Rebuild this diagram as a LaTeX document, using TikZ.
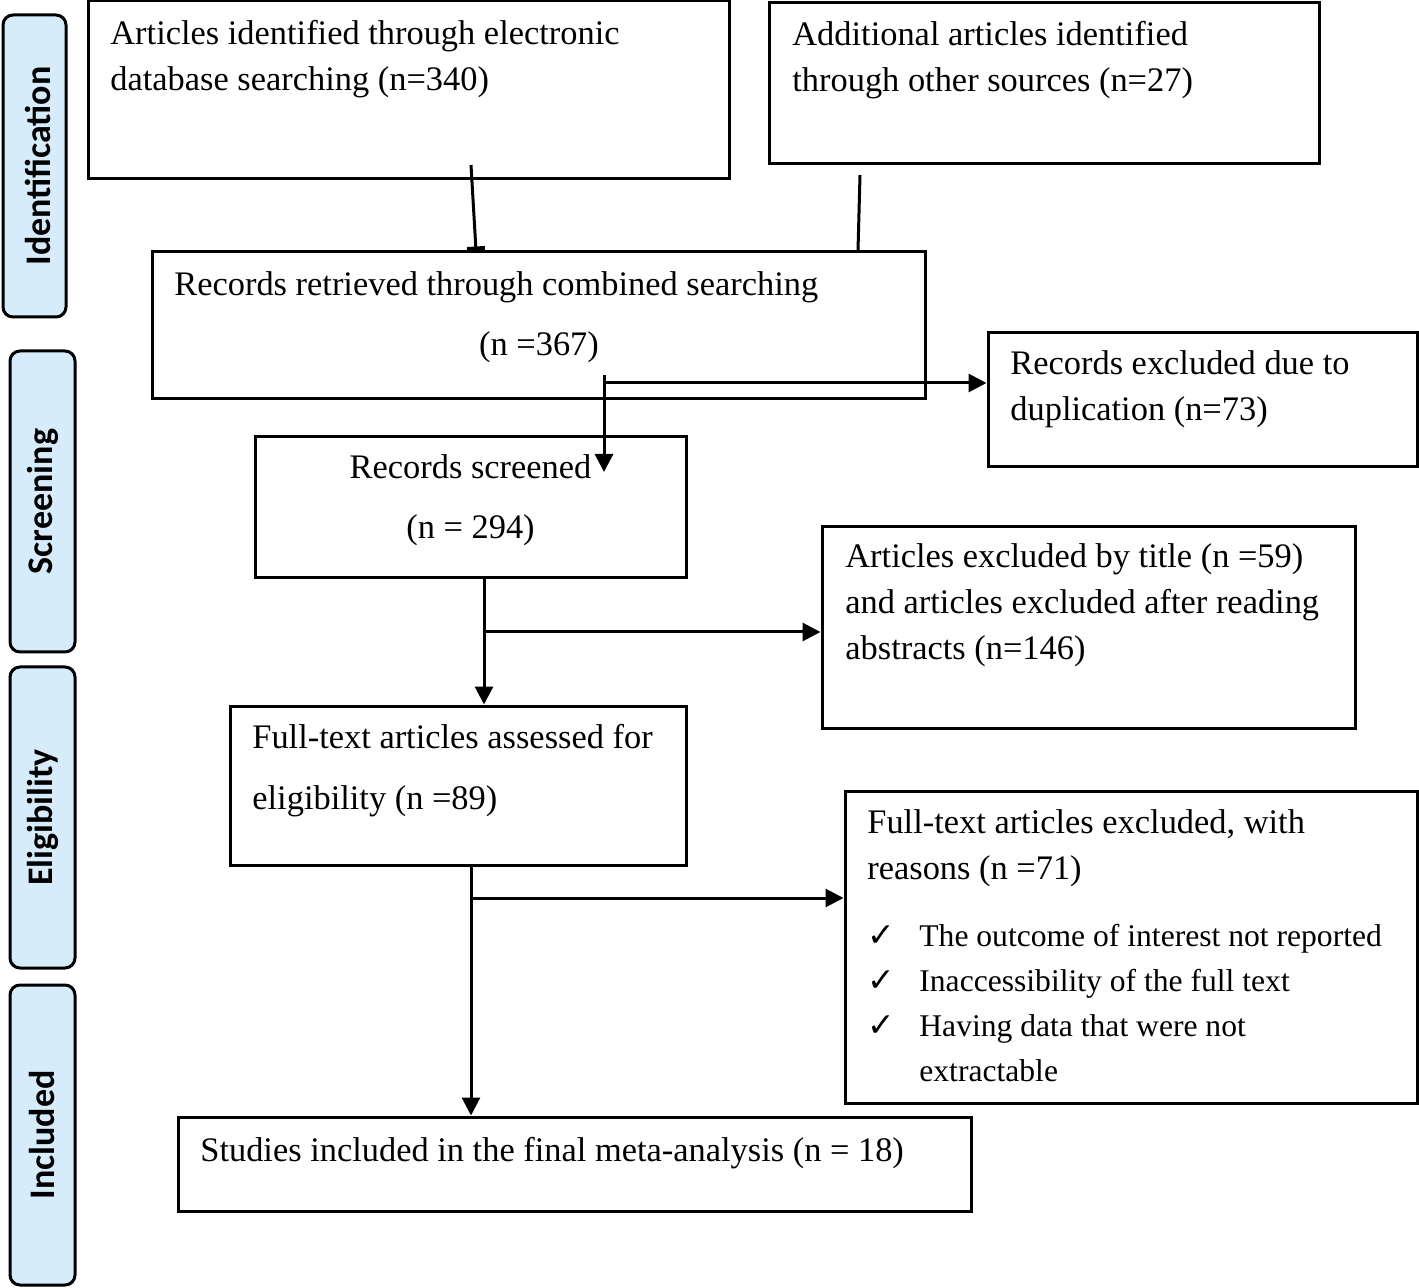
\documentclass[tikz,border=0pt]{standalone}
\usepackage{fontspec}
\setmainfont{Liberation Serif}
\newfontfamily\sidefont{Carlito}
\newfontfamily\tickfont{DejaVu Sans}
\usetikzlibrary{arrows.meta,fit}
\definecolor{stageblue}{RGB}{214,236,250}

\tikzset{
  box/.style={draw, line width=1.5pt, inner sep=0pt},
  stage/.style={draw, line width=1.5pt, rounded corners=5pt, fill=stageblue, inner sep=0pt},
  stagetxt/.style={rotate=90, inner sep=0pt, font=\sidefont\bfseries\fontsize{18}{20}\selectfont},
  txt/.style={inner sep=0pt, anchor=base west, align=left, font=\fontsize{17.2}{23}\selectfont},
  listtxt/.style={inner sep=0pt, anchor=base west, align=left, font=\fontsize{15.8}{22.5}\selectfont},
  flow/.style={line width=1.5pt, -{Triangle[length=9pt,width=9pt]}},
  tee/.style={line width=1.5pt, -{Rectangle[length=2pt,width=9pt]}},
  plain/.style={line width=1.5pt},
}

\begin{document}
\begin{tikzpicture}[x=0.5pt,y=-0.5pt]
  \useasboundingbox (0,0) rectangle (1419,1288);

  % stages on the left
  \node[stage, fit={(3,15) (66,317)}] (idn) {};
  \node[stage, fit={(10,351) (75,652)}] (scn) {};
  \node[stage, fit={(10,667) (75,968)}] (elg) {};
  \node[stage, fit={(10,985) (75,1285)}] (inc) {};
  \node[stagetxt] (idn-t) at ([xshift=1.5pt]idn.center) {Identification};
  \node[stagetxt] (scn-t) at (scn.center) {Screening};
  \node[stagetxt] (elg-t) at (elg.center) {Eligibility};
  \node[stagetxt] (inc-t) at (inc.center) {Included};

  % boxes
  \node[box, fit={(88,1) (729,179)}] (art) {};
  \node[box, fit={(769,3) (1319,164)}] (add) {};
  \node[box, fit={(152,252) (925,399)}] (rec) {};
  \node[box, fit={(988,333) (1417,467)}] (dup) {};
  \node[box, fit={(255,437) (686,578)}] (scr) {};
  \node[box, fit={(822,527) (1355,728)}] (tit) {};
  \node[box, fit={(230,706) (686,865)}] (full) {};
  \node[box, fit={(845,791) (1417,1103)}] (exc) {};
  \node[box, fit={(178,1117) (971,1211)}] (fin) {};

  % texts (base = last line)
  \node[txt] (art-t) at (110,91) {Articles identified through electronic\\database searching (n=340)};
  \node[txt] (add-t) at (792,92) {Additional articles identified\\through other sources (n=27)};
  \node[txt] (rec-t) at (174,296) {Records retrieved through combined searching};
  \node[txt, anchor=base] (rec-n) at (539,356) {(n =367)};
  \node[txt] (dup-t) at (1010,421) {Records excluded due to\\duplication (n=73)};
  \node[txt, anchor=base, align=center, font=\fontsize{17.2}{30}\selectfont] (scr-t) at (470.5,539) {Records screened\\(n = 294)};
  \node[txt] (tit-t) at (845,660) {Articles excluded by title (n =59)\\and articles excluded after reading\\abstracts (n=146)};
  \node[txt, font=\fontsize{17.2}{30.5}\selectfont] (full-t) at (252,809) {Full-text articles assessed for\\eligibility (n =89)};
  \node[txt] (exc-t) at (867,879) {Full-text articles excluded, with\\reasons (n =71)};
  \node[listtxt, font=\tickfont\bfseries\fontsize{16.5}{22.5}\selectfont] (exc-c) at (867,1036) {✓\\✓\\✓};
  \node[listtxt] (exc-l) at (919,1081) {The outcome of interest not reported\\Inaccessibility of the full text\\Having data that were not\\extractable};
  \node[txt] (fin-t) at (200,1161) {Studies included in the final meta-analysis (n = 18)};

  % connectors
  \coordinate (a1) at (471,165);
  \coordinate (b1) at (860,175);
  \coordinate (r1) at (604,375);
  \coordinate (r2) at (604,472);
  \coordinate (r3) at (604,383);
  \coordinate (sb) at (484,632);
  \coordinate (fb) at (471,898);
  \draw[tee] (a1) -- ([xshift=2.5pt]a1 |- rec.north);
  \draw[plain] (b1) -- ([xshift=-1pt]b1 |- rec.north);
  \draw[flow] (r1) -- (r2);
  \draw[flow] (r3) -- (r3 -| dup.west);
  \draw[flow] (sb |- scr.south) -- (sb |- full.north);
  \draw[flow] (sb) -- (sb -| tit.west);
  \draw[flow] (fb |- full.south) -- (fb |- fin.north);
  \draw[flow] (fb) -- (fb -| exc.west);
\end{tikzpicture}
\end{document}
